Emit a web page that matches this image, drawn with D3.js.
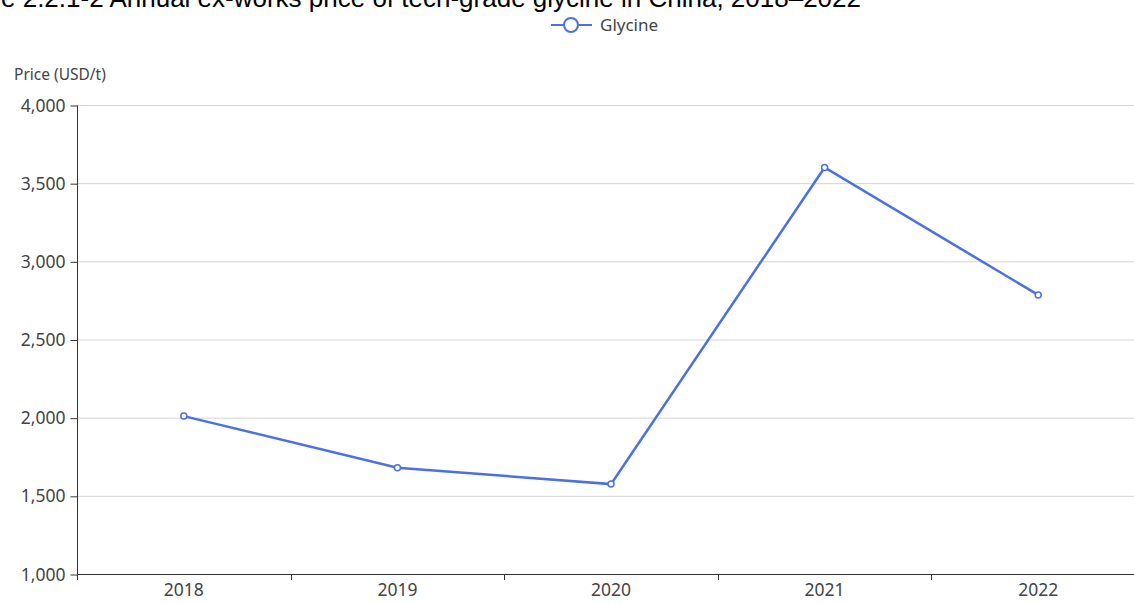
<!DOCTYPE html>
<html>
<head>
<meta charset="utf-8">
<script src="https://cdn.jsdelivr.net/npm/d3@7"></script>
<style>
html,body{margin:0;padding:0;background:#fff;overflow:hidden;}
svg{display:block;}
</style>
</head>
<body>
<svg id="chart" width="1134" height="603"></svg>
<script>
const titleText = "Figure 2.2.1-2 Annual ex-works price of tech-grade glycine in China, 2018–2022";
const yAxisTitle = "Price (USD/t)";
const seriesName = "Glycine";
const years = ["2018", "2019", "2020", "2021", "2022"];
const prices = [2010, 1680, 1575, 3600, 2785];
const yTicks = [1000, 1500, 2000, 2500, 3000, 3500, 4000];

const svg = d3.select("#chart");
const font = "'Noto Sans', 'Open Sans', sans-serif";
const lineColor = "#4a70e2";

const x = d3.scaleBand().domain(years).range([77, 1145]).padding(0);
const y = d3.scaleLinear().domain([1000, 4000]).range([574, 105]);

// title (partly cut off at the top, as in reference)
const t = svg.append("text")
  .attr("y", 7)
  .attr("font-family", "'Liberation Sans', Arial, sans-serif")
  .attr("font-size", 26)
  .attr("fill", "#000")
  .text(titleText);
const prefixW = t.node().getSubStringLength(0, 5);
t.attr("x", -prefixW + 1);

// gridlines
svg.append("g").selectAll("line").data(yTicks.filter(d => d > 1000)).join("line")
  .attr("x1", 77).attr("x2", 1145)
  .attr("y1", d => y(d) + 0.5).attr("y2", d => y(d) + 0.5)
  .attr("stroke", "#d4d4d4").attr("stroke-width", 1);

// y axis
const yAxis = svg.append("g").attr("transform", "translate(77.5,0.5)")
  .call(d3.axisLeft(y).tickValues(yTicks).tickSize(7).tickPadding(5).tickFormat(d3.format(",")));
yAxis.select(".domain").attr("stroke", "#333").attr("d", `M0,${y(4000)}V${y(1000)}`);
yAxis.selectAll(".tick line").attr("stroke", "#333");
yAxis.selectAll(".tick text").attr("font-family", font).attr("font-size", 17.5).attr("fill", "#444");

// x axis
const xAxis = svg.append("g").attr("transform", `translate(0,${y(1000) + 0.5})`)
  .call(d3.axisBottom(x).tickSize(0).tickPadding(9));
xAxis.select(".domain").attr("stroke", "#333").attr("d", "M77,0H1145");
xAxis.selectAll(".tick text").attr("font-family", font).attr("font-size", 17.5).attr("fill", "#444");
// boundary ticks
svg.append("g").selectAll("line").data(years).join("line")
  .attr("x1", d => Math.round(x(d)) + 0.5).attr("x2", d => Math.round(x(d)) + 0.5)
  .attr("y1", y(1000)).attr("y2", y(1000) + 6)
  .attr("stroke", "#333");

// axis title
svg.append("text").attr("x", 14).attr("y", 80)
  .attr("font-family", font).attr("font-size", 15.5).attr("fill", "#444")
  .text(yAxisTitle);

// line
const data = years.map((d, i) => ({year: d, value: prices[i]}));
const cx = d => x(d.year) + x.bandwidth() / 2;
svg.append("path").datum(data)
  .attr("fill", "none").attr("stroke", lineColor).attr("stroke-width", 2.5)
  .attr("d", d3.line().x(cx).y(d => y(d.value)));
svg.append("g").selectAll("circle").data(data).join("circle")
  .attr("cx", cx).attr("cy", d => y(d.value)).attr("r", 3)
  .attr("fill", "#fff").attr("stroke", lineColor).attr("stroke-width", 1.5);

// legend
const lg = svg.append("g").attr("transform", "translate(0,25)");
lg.append("line").attr("x1", 551).attr("x2", 592).attr("y1", 0).attr("y2", 0)
  .attr("stroke", lineColor).attr("stroke-width", 2);
lg.append("circle").attr("cx", 571).attr("cy", 0).attr("r", 7)
  .attr("fill", "#fff").attr("stroke", lineColor).attr("stroke-width", 2);
lg.append("text").attr("x", 600).attr("y", 0).attr("dy", "0.35em")
  .attr("font-family", font).attr("font-size", 17).attr("fill", "#444")
  .text(seriesName);
</script>
</body>
</html>
